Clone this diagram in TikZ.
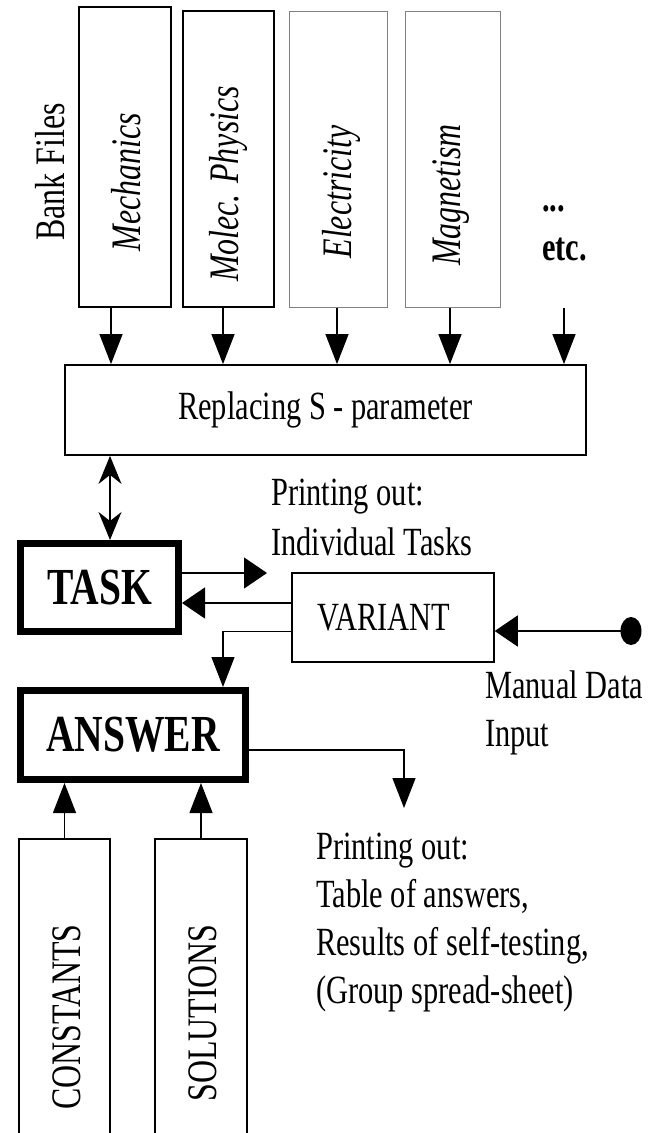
\documentclass[tikz,border=0pt]{standalone}
\usepackage{fontspec}
\setmainfont[FakeStretch=0.76]{Liberation Serif}
\usetikzlibrary{arrows.meta,shapes.geometric}

\newcommand\dgmreg{\fontsize{40}{48}\selectfont}
\newcommand\dgmspine{\fontsize{42}{48}\selectfont}
\newcommand\dgmbold{\bfseries\fontsize{52}{60}\selectfont}

\begin{document}
\begin{tikzpicture}[x=1pt,y=-1pt,
  txt/.style={font=\dgmreg, inner sep=0pt, align=left, anchor=base west},
  spine/.style={font=\dgmspine, rotate=90, inner sep=0pt},
  spineit/.style={font=\itshape\dgmspine, rotate=90, inner sep=0pt},
  box/.style={draw, line width=1.5pt, inner sep=0pt},
  greybox/.style={draw=black!50, line width=1pt, inner sep=0pt},
  heavy/.style={draw, line width=7pt, inner sep=0pt, font=\dgmbold},
  varrow/.style={line width=1.3pt, -{Triangle[length=30pt,width=23pt]}},
  harrow/.style={line width=1.3pt, -{Triangle[length=23pt,width=31pt]}},
  duplex/.style={line width=1.3pt,
    {Stealth[length=28pt,width=23pt,inset=9pt]}-{Stealth[length=28pt,width=23pt,inset=9pt]}},
]
\useasboundingbox (0,0) rectangle (663,1133);
\clip (0,0) rectangle (663,1133);

% bank files
\node[spine] (bank) at (50,172) {Bank Files};
\node[box, line width=1.6pt, minimum width=92pt, minimum height=300pt] (mech) at (125,157) {};
\node[box, line width=1.6pt, minimum width=91pt, minimum height=296pt] (molec) at (228.5,159) {};
\node[greybox, minimum width=98pt, minimum height=296pt] (elec) at (338,159) {};
\node[greybox, minimum width=95pt, minimum height=296pt] (magn) at (452.5,159) {};
\node[spineit] (mechlab) at (126,182) {Mechanics};
\node[spineit] (moleclab) at (228,184) {Molec. Physics};
\node[spineit] (eleclab) at (341,192) {Electricity};
\node[spineit] (magnlab) at (451,195) {Magnetism};
\node[txt, font=\bfseries\fontsize{40}{49}\selectfont] (etc) at (542,260) {...\\etc.};

% processing blocks
\node[box, line width=1.8pt, minimum width=521pt, minimum height=90pt, font=\dgmreg]
  (rep) at (325.5,410) {Replacing S - parameter};
\node[heavy, minimum width=158pt, minimum height=88pt] (task) at (99.5,587.5) {TASK};
\node[box, minimum width=202pt, minimum height=89pt, font=\dgmreg]
  (var) at (393,617.5) {VARIANT\hspace*{18pt}};
\node[heavy, minimum width=225pt, minimum height=89pt] (ans) at (133,735) {ANSWER};
\node[ellipse, fill, minimum width=21pt, minimum height=28pt, inner sep=0pt] (dot) at (631,631) {};

% reference files
\node[box, minimum width=91pt, minimum height=322pt] (const) at (64.5,1000) {};
\node[box, minimum width=92pt, minimum height=322pt] (sol) at (201,1000) {};
\node[spine] (constlab) at (67,1017) {CONSTANTS};
\node[spine] (sollab) at (203,1013) {SOLUTIONS};

% printed output and manual input (anchored at the baseline of the last line)
\node[txt, font=\fontsize{40}{50}\selectfont] (out1) at (271,555) {Printing out:\\Individual Tasks};
\node[txt] (manual) at (485,746) {Manual Data\\Input};
\node[txt] (out2) at (316,1003) {Printing out:\\Table of answers,\\Results of self-testing,\\(Group spread-sheet)};

% free ends and bends
\coordinate (m1) at ([xshift=-14pt]mech.south);
\coordinate (m2) at ([xshift=-5.5pt]molec.south);
\coordinate (m3) at ([xshift=-1pt]elec.south);
\coordinate (m4) at ([xshift=-2.5pt]magn.south);
\coordinate (m5) at (564,308);
\coordinate (d1) at ([xshift=10.5pt]task.north);
\coordinate (pt) at (267,573);
\coordinate (v1) at ([yshift=14.5pt]var.west);
\coordinate (v2) at ([yshift=-14pt]var.west);
\coordinate (a1) at ([xshift=90pt]ans.north);
\coordinate (pb) at (404,808);

% connectors
\foreach \c in {m1,m2,m3,m4,m5} \draw[varrow] (\c) -- (\c |- rep.north);
\draw[duplex] (d1 |- rep.south) -- (d1);
\draw[harrow] (task.east |- pt) -- (pt);
\draw[harrow] (v1) -- (v1 -| task.east);
\draw[varrow] (v2) -| (a1);
\draw[harrow] (dot.center) -- (dot.center -| var.east);
\draw[varrow] ([yshift=-15pt]ans.east) -| (pb);
\draw[varrow] (const.north) -- (const.north |- ans.south);
\draw[varrow] (sol.north) -- (sol.north |- ans.south);
\end{tikzpicture}
\end{document}
